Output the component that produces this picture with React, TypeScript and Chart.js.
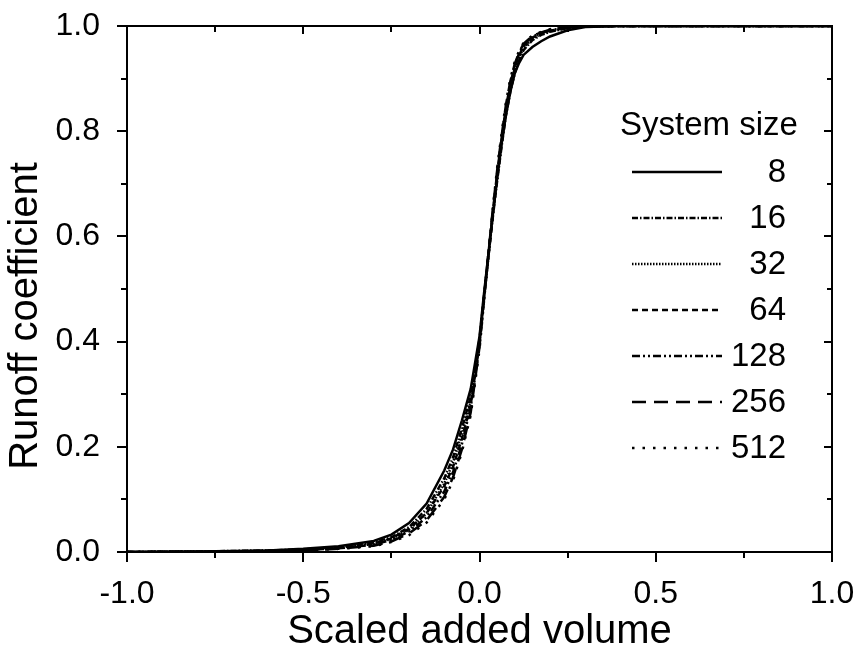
import React, { useEffect, useRef } from 'react';
import { Chart, registerables } from 'chart.js';

Chart.register(...registerables);

// ---- data ----
const xValues = [-1.0, -0.8, -0.6, -0.5, -0.4, -0.3, -0.25, -0.2, -0.15, -0.1, -0.075, -0.05, -0.025, 0.0, 0.0125, 0.025, 0.0375, 0.05, 0.0625, 0.075, 0.0875, 0.1, 0.1125, 0.125, 0.15, 0.175, 0.2, 0.25, 0.3, 0.4, 0.5, 0.7, 1.0];

const runoff8 = [0, 0.001, 0.003, 0.006, 0.011, 0.021, 0.033, 0.055, 0.092, 0.155, 0.195, 0.25, 0.31, 0.41, 0.49, 0.565, 0.64, 0.71, 0.775, 0.83, 0.875, 0.91, 0.93, 0.945, 0.96, 0.971, 0.98, 0.992, 0.998, 1, 1, 1, 1];
const runoff16 = [0, 0.001, 0.003, 0.005, 0.009, 0.018, 0.028, 0.047, 0.082, 0.14, 0.18, 0.235, 0.295, 0.405, 0.485, 0.56, 0.635, 0.705, 0.77, 0.83, 0.875, 0.91, 0.935, 0.954, 0.973, 0.983, 0.989, 0.996, 0.999, 1, 1, 1, 1];
const runoff32 = [0, 0.001, 0.002, 0.004, 0.008, 0.015, 0.025, 0.042, 0.074, 0.13, 0.17, 0.225, 0.285, 0.4, 0.48, 0.56, 0.64, 0.71, 0.775, 0.835, 0.88, 0.915, 0.94, 0.958, 0.976, 0.985, 0.99, 0.996, 0.999, 1, 1, 1, 1];
const runoff64 = [0, 0.0005, 0.002, 0.004, 0.008, 0.016, 0.026, 0.044, 0.074, 0.125, 0.162, 0.215, 0.28, 0.395, 0.48, 0.56, 0.64, 0.715, 0.78, 0.84, 0.885, 0.92, 0.944, 0.962, 0.978, 0.986, 0.991, 0.997, 1, 1, 1, 1, 1];
const runoff128 = [0, 0.0005, 0.002, 0.004, 0.007, 0.014, 0.023, 0.039, 0.066, 0.115, 0.152, 0.205, 0.275, 0.395, 0.48, 0.565, 0.645, 0.72, 0.785, 0.845, 0.89, 0.925, 0.948, 0.964, 0.98, 0.987, 0.992, 0.997, 1, 1, 1, 1, 1];
const runoff256 = [0, 0.0005, 0.002, 0.003, 0.006, 0.012, 0.02, 0.035, 0.06, 0.105, 0.142, 0.195, 0.265, 0.39, 0.48, 0.565, 0.65, 0.725, 0.79, 0.85, 0.895, 0.928, 0.95, 0.966, 0.981, 0.988, 0.993, 0.998, 1, 1, 1, 1, 1];
const runoff512 = [0, 0.0005, 0.001, 0.003, 0.006, 0.011, 0.019, 0.032, 0.056, 0.1, 0.136, 0.19, 0.26, 0.385, 0.475, 0.565, 0.65, 0.73, 0.795, 0.855, 0.9, 0.932, 0.953, 0.968, 0.982, 0.989, 0.994, 0.998, 1, 1, 1, 1, 1];

const sizeLabels = ['8', '16', '32', '64', '128', '256', '512'];
const legendTitle = 'System size';
const xTitle = 'Scaled added volume';
const yTitle = 'Runoff coefficient';

const xMajorTicks = [-1.0, -0.5, 0.0, 0.5, 1.0];
const xMinorTicks = [-0.75, -0.25, 0.25, 0.75];
const yMajorTicks = [0.0, 0.2, 0.4, 0.6, 0.8, 1.0];
const yMinorTicks = [0.1, 0.3, 0.5, 0.7, 0.9];

// ---- styles ----
const seriesValues = [runoff8, runoff16, runoff32, runoff64, runoff128, runoff256, runoff512];
const dashStyles: number[][] = [[], [6, 2, 1.5, 2], [1.5, 1.5], [6, 4], [8, 3, 2, 3, 2, 3], [14, 8], [2.5, 8]];
const FONT = '"Liberation Sans", Arial, Helvetica, sans-serif';

const framePlugin = {
  id: 'frameAndLegend',
  afterDraw(chart: any) {
    const { ctx, chartArea, scales } = chart;
    const { left, right, top, bottom } = chartArea;
    const xs = scales.x;
    const ys = scales.y;
    ctx.save();
    ctx.strokeStyle = '#000';
    ctx.lineWidth = 2;
    ctx.setLineDash([]);
    const line = (x1: number, y1: number, x2: number, y2: number) => {
      ctx.beginPath();
      ctx.moveTo(x1, y1);
      ctx.lineTo(x2, y2);
      ctx.stroke();
    };
    ctx.strokeRect(left, top, right - left, bottom - top);
    xMajorTicks.forEach((v) => {
      const p = Math.round(xs.getPixelForValue(v));
      line(p, bottom, p, bottom + 10);
      line(p, top, p, top + 8);
    });
    xMinorTicks.forEach((v) => {
      const p = Math.round(xs.getPixelForValue(v));
      line(p, bottom, p, bottom + 6);
      line(p, top, p, top + 6);
    });
    yMajorTicks.forEach((v) => {
      const p = Math.round(ys.getPixelForValue(v));
      line(left - 10, p, left, p);
      line(right - 8, p, right, p);
    });
    yMinorTicks.forEach((v) => {
      const p = Math.round(ys.getPixelForValue(v));
      line(left - 6, p, left, p);
      line(right - 5, p, right, p);
    });

    ctx.fillStyle = '#000';

    // y axis title
    ctx.save();
    ctx.font = `40px ${FONT}`;
    ctx.translate(37, 316);
    ctx.rotate(-Math.PI / 2);
    ctx.textAlign = 'center';
    ctx.textBaseline = 'alphabetic';
    ctx.fillText(yTitle, 0, 0);
    ctx.restore();

    // legend
    ctx.font = `33px ${FONT}`;
    ctx.textBaseline = 'middle';
    ctx.textAlign = 'left';
    ctx.fillText(legendTitle, 620, 126);
    chart.data.datasets.forEach((ds: any, i: number) => {
      const yy = 172 + i * 46;
      ctx.lineWidth = 2.5;
      ctx.setLineDash(ds.borderDash || []);
      line(632, yy, 722, yy);
      ctx.setLineDash([]);
      ctx.textAlign = 'right';
      ctx.fillText(ds.label, 786, yy + 1);
    });
    ctx.restore();
  },
};

export default function App() {
  const canvasRef = useRef<HTMLCanvasElement | null>(null);

  useEffect(() => {
    if (!canvasRef.current) return;
    const datasets = seriesValues.map((ys, i) => ({
      label: sizeLabels[i],
      data: xValues.map((x, j) => ({ x, y: ys[j] })),
      borderColor: '#000',
      backgroundColor: '#000',
      borderWidth: 2.5,
      borderDash: dashStyles[i],
      pointRadius: 0,
      fill: false,
      tension: 0,
    }));
    const chart = new Chart(canvasRef.current, {
      type: 'line',
      data: { datasets },
      options: {
        animation: false,
        responsive: true,
        maintainAspectRatio: false,
        layout: { padding: { top: 26, right: 24, left: 0, bottom: 0 } },
        plugins: { legend: { display: false }, tooltip: { enabled: false } },
        scales: {
          x: {
            type: 'linear',
            min: -1,
            max: 1,
            afterBuildTicks: (s: any) => {
              s.ticks = xMajorTicks.map((v) => ({ value: v }));
            },
            afterFit: (s: any) => {
              s.height = 100;
              s.paddingLeft = 0;
              s.paddingRight = 0;
            },
            grid: { display: false },
            border: { display: false },
            ticks: {
              color: '#000',
              font: { family: FONT, size: 32 },
              padding: 15,
              maxRotation: 0,
              autoSkip: false,
              callback: (v: any) => Number(v).toFixed(1),
            },
            title: {
              display: true,
              text: xTitle,
              color: '#000',
              font: { family: FONT, size: 40, lineHeight: 1 },
              padding: 0,
            },
          },
          y: {
            type: 'linear',
            min: 0,
            max: 1,
            afterBuildTicks: (s: any) => {
              s.ticks = yMajorTicks.map((v) => ({ value: v }));
            },
            afterFit: (s: any) => {
              s.width = 127;
              s.paddingTop = 0;
              s.paddingBottom = 0;
            },
            grid: { display: false },
            border: { display: false },
            ticks: {
              color: '#000',
              font: { family: FONT, size: 32 },
              padding: 19,
              autoSkip: false,
              callback: (v: any) => Number(v).toFixed(1),
            },
          },
        },
      },
      plugins: [framePlugin],
    } as any);
    return () => chart.destroy();
  }, []);

  return (
    <div style={{ position: 'absolute', left: 0, top: 0, width: 856, height: 652 }}>
      <canvas ref={canvasRef} />
    </div>
  );
}
